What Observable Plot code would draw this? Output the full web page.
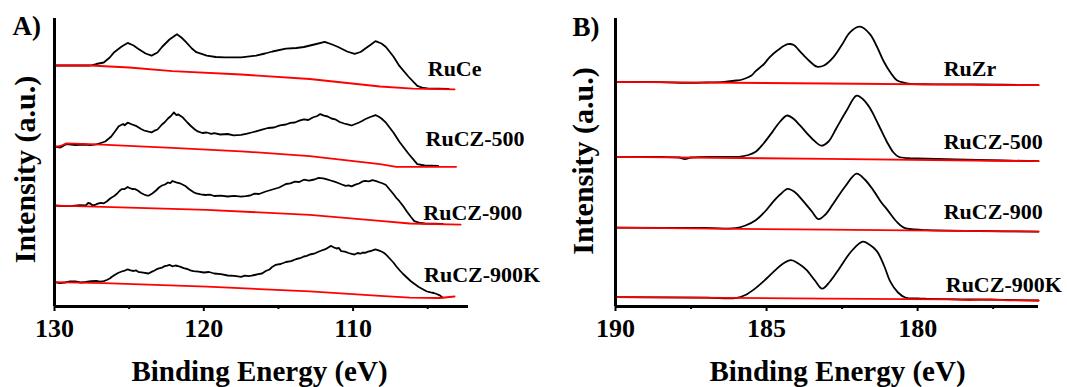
<!DOCTYPE html>
<html><head><meta charset="utf-8">
<script src="https://cdn.jsdelivr.net/npm/d3@7"></script>
<script src="https://cdn.jsdelivr.net/npm/@observablehq/plot@0.6"></script>
<style>
html,body{margin:0;padding:0;background:#fff;}
#wrap{position:relative;width:1067px;height:387px;overflow:hidden;background:#fff;}
#wrap svg{position:absolute;top:0;font-family:'Liberation Serif','Times New Roman',Times,serif;font-weight:bold;overflow:visible;background:transparent;max-width:none;}
#wrap svg text{font-family:'Liberation Serif','Times New Roman',Times,serif;}
</style></head><body><div id="wrap"></div>
<script>
// ---------- Panel A : Ce 4d region (binding energy eV, intensity a.u.) ----------
const namesA = ["RuCe", "RuCZ-500", "RuCZ-900", "RuCZ-900K"];
const ticksA = [130, 120, 110];
const minorA = [125, 115, 105];

const RuCe_A = [[130,241],[128.8,241],[127.6,241],[127.2,242.5],[126.7,244],[126.3,249],[126.0,254.3],[125.5,260],[125.1,263.6],[124.7,261],[124.4,257.8],[123.9,253],[123.5,250.9],[123.1,254],[122.8,259.5],[122.3,267],[121.8,272.3],[121.5,269],[121.2,264.7],[120.8,258],[120.5,254.3],[119.8,250.9],[119.2,249.5],[118.6,249.2],[117.5,249.2],[116.5,250.9],[115.9,253],[115.4,255],[114.5,257.8],[113.8,258.5],[113.3,259.5],[112.6,262],[111.9,264.7],[111.4,262],[111.0,259.5],[110.4,255],[109.9,252.6],[109.5,254.5],[109.2,257.8],[108.8,262],[108.5,265.4],[108.1,263],[107.8,259.5],[107.3,250],[106.9,240.6],[106.3,230],[105.7,220.6],[105.3,218.5],[105.0,218.2],[103.6,217.5]];
const RuCe_A_bg = [[130,241],[127.6,241],[125,239],[122.1,235.4],[117.5,232],[112.9,227.5],[108.2,220],[106.0,217.8],[103.2,217.2]];

const RuCZ500_A = [[130,160],[129.6,159],[129.2,162.5],[128.6,161.5],[128,162],[127.6,161.4],[127.2,162.1],[126.9,163.5],[126.6,165],[126.4,167.5],[126.2,170],[125.9,176],[125.7,180.3],[125.4,182.5],[125.3,181.2],[125.1,183.8],[124.8,182],[124.5,180.3],[124.2,177.5],[124.0,176],[123.7,174.8],[123.5,174.1],[123.3,175.8],[123.1,177],[122.8,182],[122.6,184.5],[122.4,188],[122.2,190.5],[122.0,194.1],[121.85,191.5],[121.7,192],[121.4,188.9],[121.1,184],[120.9,181],[120.6,177],[120.4,175.1],[120.1,173.5],[119.8,174],[119.5,172.6],[119.3,173.4],[118.9,172],[118.4,172.5],[118.0,171.2],[117.5,171.7],[117.1,172.8],[116.8,174],[116.5,175.2],[116.1,176.9],[115.7,178.5],[115.3,179],[114.9,181.2],[114.5,182],[114.2,183.6],[113.9,184],[113.6,185.8],[113.3,187.2],[113.0,186.5],[112.7,189],[112.4,190.5],[112.2,192.4],[111.95,190.8],[111.7,190],[111.45,188],[111.2,187.2],[110.9,184.5],[110.6,183],[110.3,181.8],[110.1,181],[109.85,182.5],[109.6,184],[109.4,185.5],[109.2,187.2],[108.85,189.5],[108.5,191.3],[108.3,190],[108.1,188],[107.8,183.8],[107.3,174],[106.9,164.8],[106.3,153],[105.7,142.4],[105.2,141],[104.3,140.7]];
const RuCZ500_A_bg = [[130,159.7],[129.6,160.5],[129.2,163.1],[127.2,162.1],[122.1,158.6],[117.5,155.2],[112.9,150.4],[108.2,142.4],[107.1,139.7],[103.1,139.7]];

const RuCZ900_A = [[130,101],[129.4,100.3],[128.8,100.5],[128.3,101.3],[127.9,101.2],[127.75,103.5],[127.6,103],[127.45,101],[127.3,101.5],[127.1,102.8],[126.9,103.6],[126.7,103.2],[126.5,105],[126.35,107],[126.2,108.8],[126.0,110.5],[125.8,113],[125.65,115.5],[125.5,117.4],[125.3,117.5],[125.1,119.5],[124.95,118.3],[124.8,117.5],[124.6,117.4],[124.4,115.7],[124.2,113.5],[124.0,112],[123.85,111.2],[123.7,110.8],[123.45,113],[123.2,116],[123.0,119],[122.8,121],[122.6,122],[122.4,124],[122.25,123.3],[122.1,125.5],[121.85,124.2],[121.6,123.2],[121.4,121.8],[121.2,120.2],[121.0,117.5],[120.8,115.5],[120.65,114],[120.5,113.1],[120.2,112.2],[119.9,111.5],[119.6,111.9],[119.3,110.5],[118.85,110.8],[118.4,110],[117.95,110.6],[117.5,109.8],[117.2,110.3],[116.9,111],[116.6,112.8],[116.3,112.5],[115.85,115],[115.4,117],[114.95,119],[114.5,122.5],[114.2,123.2],[113.9,124.8],[113.6,124.5],[113.3,126.8],[112.95,125.8],[112.6,127],[112.3,128.6],[112.0,128.2],[111.75,127.2],[111.5,126],[111.25,124.8],[111.0,123.5],[110.75,122],[110.5,120.6],[110.3,121.2],[110.1,120.2],[109.85,121.8],[109.6,123],[109.4,124.8],[109.2,125.6],[108.95,125.2],[108.7,126.3],[108.45,125.3],[108.2,124],[108.0,123],[107.8,121.5],[107.55,117],[107.3,112.5],[107.1,108.5],[106.9,105.3],[106.65,100.5],[106.4,95],[106.15,90],[105.9,85.4],[105.5,83.5],[105.2,83],[104.0,82.5]];
const RuCZ900_A_bg = [[130,100.9],[127.9,100.2],[119.8,96.7],[112.9,91.6],[108.2,85.7],[106.2,83],[102.8,81.9]];

const RuCZ900K_A = [[130,24.4],[129.65,23.4],[129.3,24],[128.95,25.2],[128.6,25],[128.25,24],[127.9,24.5],[127.55,25.4],[127.2,25.5],[126.95,24.8],[126.7,25.4],[126.5,26.5],[126.3,28],[126.15,29.8],[126.0,31.3],[125.75,33.5],[125.5,35],[125.3,35.8],[125.1,37.2],[124.9,36.2],[124.7,35.5],[124.55,36.2],[124.4,34.7],[124.05,33.8],[123.7,33],[123.5,34.6],[123.3,36],[123.15,37.3],[123.0,38.2],[122.8,38.9],[122.6,40.5],[122.45,40.9],[122.3,41.6],[122.1,40.2],[121.9,41],[121.75,40.5],[121.6,39.9],[121.35,38.3],[121.1,37.5],[120.9,36.1],[120.7,35.4],[120.35,34.9],[120.0,34],[119.65,34.5],[119.3,33],[118.85,32.3],[118.4,31],[117.95,30.6],[117.5,29.6],[117.25,30.9],[117.0,30.3],[116.8,30.8],[116.6,31.5],[116.35,32.4],[116.1,33],[115.85,35.5],[115.6,37],[115.4,39.8],[115.2,41.6],[114.85,42.5],[114.5,44.5],[114.15,45.3],[113.8,47.5],[113.55,48.3],[113.3,50],[113.1,50.6],[112.9,52],[112.55,53.2],[112.2,55.5],[111.85,57.3],[111.5,60.6],[111.3,59.2],[111.1,58],[110.95,58.5],[110.8,55.4],[110.55,54.8],[110.3,53.5],[110.1,52.6],[109.9,52],[109.7,53.5],[109.5,52.8],[109.35,54],[109.2,53.7],[109.0,54.8],[108.8,55.5],[108.65,56.4],[108.5,57.1],[108.3,56.2],[108.1,55],[107.95,53.8],[107.8,52],[107.55,48],[107.3,44],[107.1,40],[106.9,36.5],[106.65,32.5],[106.4,29],[106.15,25.5],[105.9,22.7],[105.6,19.5],[105.3,17],[105.05,15],[104.8,14.1],[104.6,13.5],[104.4,12.5],[104.2,11.2],[104.0,8.9]];
const RuCZ900K_A_bg = [[130,24.4],[126.7,23.4],[119.8,19.9],[112.9,15.1],[108.2,10.6],[106.2,8.9],[104.2,8.5],[103.2,10]];

// ---------- Panel B : Zr 3d region ----------
const namesB = ["RuZr", "RuCZ-500", "RuCZ-900", "RuCZ-900K"];
const ticksB = [190, 185, 180];
const minorB = [187.5, 182.5, 177.5];

const RuZr_B = [[190,224.7],[188.5,224.3],[187.5,223.6],[187.0,224],[186.4,224.7],[186.0,226],[185.8,227],[185.5,231],[185.36,235.4],[185.1,242],[184.91,248.9],[184.6,257],[184.3,262.3],[184.1,261.5],[183.91,255.6],[183.6,246],[183.33,239.8],[183.1,241],[182.8,248.9],[182.5,262],[182.24,274.1],[181.91,279.8],[181.58,272.4],[181.35,260],[181.13,245.5],[180.9,234],[180.69,226.3],[180.4,223.5],[180.24,222.6],[179.5,222.2],[178,222],[176,221.3]];
const RuZr_B_bg = [[190,224.7],[183,223],[176,221.3]];

const RuCZ500_B = [[190,149.7],[188.5,149.5],[187.9,149],[187.7,147.3],[187.5,149],[186.5,149.7],[185.92,149.7],[185.6,151.5],[185.36,154.7],[185.1,163],[184.8,174.9],[184.55,185],[184.32,191],[184.1,187.5],[183.91,181.6],[183.5,168],[183.19,160.8],[182.95,165],[182.69,178.3],[182.35,196],[182.02,210.9],[181.8,207],[181.58,198.4],[181.3,182],[181.02,164.8],[180.8,154],[180.63,149.7],[180.3,148.3],[180.02,148],[178,146.5],[176,145.3]];
const RuCZ500_B_bg = [[190,149.7],[183,147.6],[176,145.3]];

const RuCZ900_B = [[190,78.9],[187,78.5],[186.03,78.3],[185.7,81],[185.36,86.3],[185.05,95],[184.8,104.2],[184.55,112],[184.3,117.6],[184.05,114],[183.8,105.8],[183.5,95],[183.28,87.3],[183.05,92],[182.8,102.5],[182.4,120],[182.02,132.9],[181.75,127],[181.46,115.9],[181.2,104],[181.02,97.4],[180.7,85],[180.46,78.9],[180.1,77],[179.68,76.3],[178,75.5],[176,74.9]];
const RuCZ900_B_bg = [[190,78.9],[183,76.8],[176,74.9]];

const RuCZ900K_B = [[190,9.4],[187,8.8],[186.03,8.4],[185.7,11.5],[185.36,18.4],[185.0,28],[184.69,36.9],[184.45,43],[184.19,46.3],[183.95,43],[183.69,36.9],[183.4,26],[183.16,17.8],[182.9,25],[182.58,38.6],[182.2,55],[181.82,64.8],[181.6,62],[181.35,55.4],[181.1,40],[180.91,25.2],[180.65,14],[180.41,9],[180.0,8],[179.68,7.7],[178,7],[176,6]];
const RuCZ900K_B_bg = [[190,9.4],[183,7.8],[179,7.2],[178.3,6.4],[177.6,7.1],[177.0,6.2],[176,6]];

// ---------- build ----------
const FONT = "'Liberation Serif','Times New Roman',Times,serif";
const wrap = document.getElementById("wrap");

function panel(cfg) {
  const X = d => d[0], Y = d => d[1];
  const marks = [];
  cfg.spectra.forEach(s => marks.push(Plot.line(s, {x: X, y: Y, stroke: "#000", strokeWidth: 1.8, curve: cfg.curve})));
  cfg.bgs.forEach(s => marks.push(Plot.line(s, {x: X, y: Y, stroke: "#ff0000", strokeWidth: 1.8, curve: "linear"})));
  const labels = cfg.names.map((n, i) => ({name: n, e: cfg.labelAt[i][0], v: cfg.labelAt[i][1]}));
  const T = {fontFamily: FONT, fontWeight: "bold", fill: "#000"};
  marks.push(Plot.text(labels, {...T, x: "e", y: "v", text: "name", textAnchor: "start", lineAnchor: "bottom", fontSize: 22}));
  marks.push(Plot.ruleY([0], {stroke: "#000", strokeWidth: 3}));
  marks.push(Plot.ruleX([cfg.domain[0]], {stroke: "#000", strokeWidth: 3}));
  marks.push(Plot.axisX({ticks: cfg.major, tickSize: 5, tickPadding: 7.5, strokeWidth: 2, fontSize: 26, fontWeight: "bold", fontFamily: FONT, label: null, tickFormat: d => String(d)}));
  marks.push(Plot.axisX({ticks: cfg.minor, tickSize: 3, strokeWidth: 2, label: null, tickFormat: () => ""}));
  marks.push(Plot.text([cfg.letter], {...T, text: d => d, frameAnchor: "top-left", textAnchor: "start", lineAnchor: "bottom", dx: cfg.letterD[0], dy: cfg.letterD[1], fontSize: 27}));
  marks.push(Plot.text(["Intensity (a.u.)"], {...T, text: d => d, frameAnchor: "left", textAnchor: "middle", rotate: -90, lineAnchor: "bottom", dx: cfg.ylabD[0], dy: cfg.ylabD[1], fontSize: 30}));
  marks.push(Plot.text(["Binding Energy (eV)"], {...T, text: d => d, frameAnchor: "bottom", textAnchor: "middle", lineAnchor: "bottom", dx: cfg.xlabD[0], dy: cfg.xlabD[1], fontSize: 29}));
  const svg = Plot.plot({
    width: cfg.width, height: 387,
    marginLeft: cfg.ml, marginRight: cfg.mr, marginTop: 18, marginBottom: 81,
    x: {domain: cfg.domain},
    y: {domain: [0, 288], axis: null},
    style: "font-family:" + FONT + ";font-weight:bold;color:#000;background:transparent;overflow:visible;max-width:none;",
    marks
  });
  svg.style.left = cfg.left + "px";
  wrap.appendChild(svg);
}

panel({
  left: 0, width: 540, ml: 54, mr: 72, domain: [130, 102.27], curve: "linear",
  major: ticksA, minor: minorA, names: namesA,
  spectra: [RuCe_A, RuCZ500_A, RuCZ900_A, RuCZ900K_A],
  bgs: [RuCe_A_bg, RuCZ500_A_bg, RuCZ900_A_bg, RuCZ900K_A_bg],
  labelAt: [[105.0, 231], [105.15, 161], [105.3, 86.4], [105.25, 24.4]],
  letter: "A)", letterD: [-42, 16], ylabD: [-19.5, 7], xlabD: [-2, 74]
});
panel({
  left: 540, width: 527, ml: 75, mr: 29, domain: [190, 176.0], curve: "catmull-rom",
  major: ticksB, minor: minorB, names: namesB,
  spectra: [RuZr_B, RuCZ500_B, RuCZ900_B, RuCZ900K_B],
  bgs: [RuZr_B_bg, RuCZ500_B_bg, RuCZ900_B_bg, RuCZ900K_B_bg],
  labelAt: [[179.14, 230.4], [179.14, 158], [179.14, 87.3], [179.07, 15]],
  letter: "B)", letterD: [-43, 17.3], ylabD: [-23, -1.5], xlabD: [10.5, 74]
});
</script></body></html>
